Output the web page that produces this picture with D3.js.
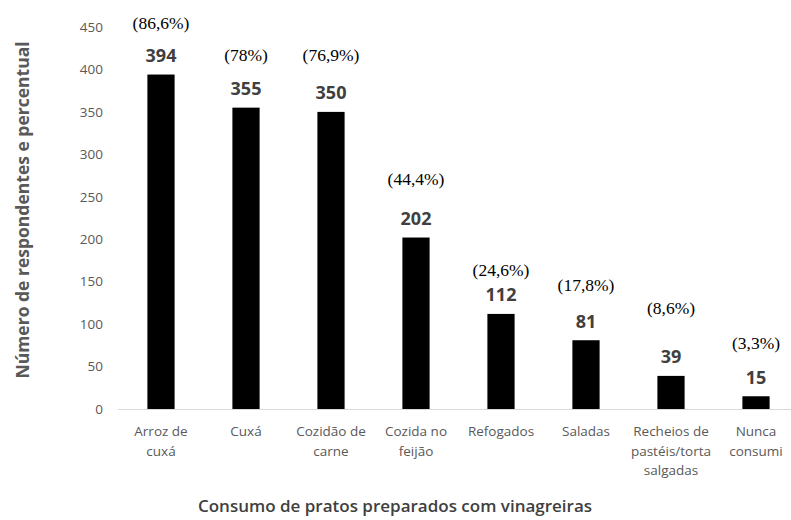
<!DOCTYPE html>
<html><head><meta charset="utf-8">
<script src="https://cdn.jsdelivr.net/npm/d3@7"></script>
<style>body{margin:0;background:#fff}svg{display:block}</style>
</head><body>
<svg id="c" width="791" height="520"></svg>
<script>
const categories = [["Arroz de","cuxá"],["Cuxá"],["Cozidão de","carne"],["Cozida no","feijão"],["Refogados"],["Saladas"],["Recheios de","pastéis/torta","salgadas"],["Nunca","consumi"]];
const values = [394,355,350,202,112,81,39,15];
const percents = ["(86,6%)","(78%)","(76,9%)","(44,4%)","(24,6%)","(17,8%)","(8,6%)","(3,3%)"];
const yTicks = [0,50,100,150,200,250,300,350,400,450];

// layout: manual lift of each percent label above its bar (px)
const pctLift = [45.5,46.5,51,52.5,38,49,62,47];

const svg = d3.select("#c");
const sans = "'Open Sans', sans-serif";
const x = d3.scaleBand().domain(d3.range(categories.length)).range([118.5, 798.5]).paddingInner(0.68).paddingOuter(0.34);
const y = d3.scaleLinear().domain([0,450]).range([409,27]);

// baseline
svg.append("line").attr("x1",118).attr("x2",791).attr("y1",y(0)+0.5).attr("y2",y(0)+0.5).attr("stroke","#d9d9d9").attr("stroke-width",1);

// y tick labels
const yAxis = d3.axisLeft(y).tickValues(yTicks).tickSize(0).tickPadding(0);
const ga = svg.append("g").attr("transform","translate(103,0)").call(yAxis);
ga.select(".domain").remove();
ga.selectAll("text").attr("fill","#595959").attr("font-family",sans).attr("font-size",13.5);

// bars
svg.selectAll("rect.bar").data(values).join("rect").attr("class","bar")
  .attr("x",(d,i)=>x(i)).attr("width",x.bandwidth())
  .attr("y",d=>y(d)).attr("height",d=>y(0)-y(d)).attr("fill","#000");

// value labels
svg.selectAll("text.val").data(values).join("text").attr("class","val")
  .attr("x",(d,i)=>x(i)+x.bandwidth()/2).attr("y",d=>y(d)-12.5)
  .attr("text-anchor","middle").attr("font-family",sans).attr("font-weight","bold")
  .attr("font-size",18).attr("fill","#404040").text(d=>d);

// percent labels
svg.selectAll("text.pct").data(percents).join("text").attr("class","pct")
  .attr("x",(d,i)=>x(i)+x.bandwidth()/2).attr("y",(d,i)=>y(values[i])-pctLift[i])
  .attr("text-anchor","middle").attr("font-family","'Liberation Serif', 'Times New Roman', serif")
  .attr("font-size",17.5).attr("fill","#000").text(d=>d);

// category labels
categories.forEach((lines,i)=>{
  const t = svg.append("text").attr("text-anchor","middle").attr("font-family",sans)
    .attr("font-size",13.5).attr("fill","#595959");
  lines.forEach((l,j)=>t.append("tspan").attr("x",x(i)+x.bandwidth()/2).attr("y",436+j*19.5).text(l));
});

// axis titles
svg.append("text").attr("x",395).attr("y",512).attr("text-anchor","middle")
  .attr("font-family",sans).attr("font-weight",600).attr("font-size",17).attr("fill","#404040")
  .text("Consumo de pratos preparados com vinagreiras");
svg.append("text").attr("transform","translate(29,210) rotate(-90)").attr("text-anchor","middle")
  .attr("font-family",sans).attr("font-weight",700).attr("font-size",17.5).attr("fill","#595959")
  .text("Número de respondentes e percentual");
</script>
</body></html>
